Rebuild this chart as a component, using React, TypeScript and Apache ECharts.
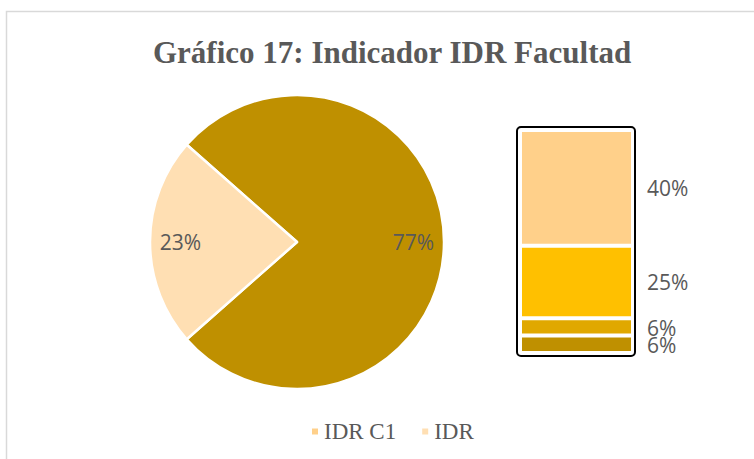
import React, { useEffect, useRef } from "react";
import * as echarts from "echarts";

const pieNames = ["IDR C1", "IDR"];
const pieValues = [77, 23];
const pieColors = ["#BF9000", "#FFDFB3"];

const barNames = ["a", "b", "c", "d"];
const barValues = [6, 6, 25, 40]; // bottom to top
const barColors = ["#BF9000", "#E0A800", "#FFC000", "#FFD08A"];

const legendNames = ["IDR C1", "IDR"];
const legendColors = ["#FFD08A", "#FFDFB3"];

const titleText = "Gráfico 17: Indicador IDR Facultad";

export default function App() {
  const ref = useRef<HTMLDivElement>(null);
  useEffect(() => {
    document.body.style.margin = "0";
    const chart = echarts.init(ref.current!, null, { renderer: "svg" });
    const labelFont = { fontFamily: "Open Sans", fontSize: 21, color: "#595959" };
    chart.setOption({
      animation: false,
      backgroundColor: "#ffffff",
      title: {
        text: titleText,
        left: 148,
        top: 32,
        textStyle: {
          fontFamily: "Liberation Serif",
          fontWeight: "bold",
          fontSize: 31,
          color: "#595959",
        },
      },
      graphic: [
        {
          type: "rect",
          shape: { x: 6.5, y: 11.5, width: 800, height: 520 },
          style: { fill: "none", stroke: "#D9D9D9", lineWidth: 1.5 },
          silent: true,
          z: -10,
        },
        {
          type: "rect",
          shape: { x: 517, y: 127, width: 118, height: 229, r: 4 },
          style: { fill: "none", stroke: "#000000", lineWidth: 2 },
          silent: true,
          z: 10,
        },
      ],
      legend: {
        top: 415,
        left: 305,
        icon: "rect",
        itemWidth: 8,
        itemHeight: 8,
        itemGap: 24,
        textStyle: { fontFamily: "Liberation Serif", fontSize: 23, color: "#595959" },
        data: legendNames.map((n, i) => ({ name: n, itemStyle: { color: legendColors[i] } })),
        selectedMode: false,
      },
      grid: { left: 520, width: 113, top: 130, height: 223 },
      xAxis: { type: "category", data: ["x"], show: false },
      yAxis: { type: "value", min: 0, max: 77, show: false },
      series: [
        {
          type: "pie",
          center: [297, 242],
          radius: 147,
          startAngle: 138.6,
          clockwise: true,
          label: { show: false },
          labelLine: { show: false },
          itemStyle: { borderColor: "#ffffff", borderWidth: 2.5 },
          data: pieNames.map((n, i) => ({ name: n, value: pieValues[i], itemStyle: { color: pieColors[i] } })),
        },
        {
          type: "pie",
          name: "labels",
          center: [297, 242],
          radius: [80, 147],
          startAngle: 138.6,
          clockwise: true,
          silent: true,
          legendHoverLink: false,
          label: { show: true, position: "inside", formatter: "{c}%", ...labelFont },
          labelLine: { show: false },
          itemStyle: { color: "rgba(0,0,0,0)" },
          data: pieNames.map((n, i) => ({ name: n + " ", value: pieValues[i] })),
        },
        ...barValues.map((v, i) => ({
          type: "bar",
          name: barNames[i],
          stack: "s",
          barWidth: "100%",
          data: [v],
          itemStyle: { color: barColors[i], borderColor: "#ffffff", borderWidth: 2 },
          label: {
            show: true,
            position: "right",
            distance: 14,
            formatter: "{c}%",
            offset: i === 1 ? [0, 1] : i === 0 ? [0, 1] : [0, 0],
            ...labelFont,
          },
        })),
      ],
    });
    return () => chart.dispose();
  }, []);
  return <div ref={ref} style={{ width: 754, height: 459 }} />;
}
